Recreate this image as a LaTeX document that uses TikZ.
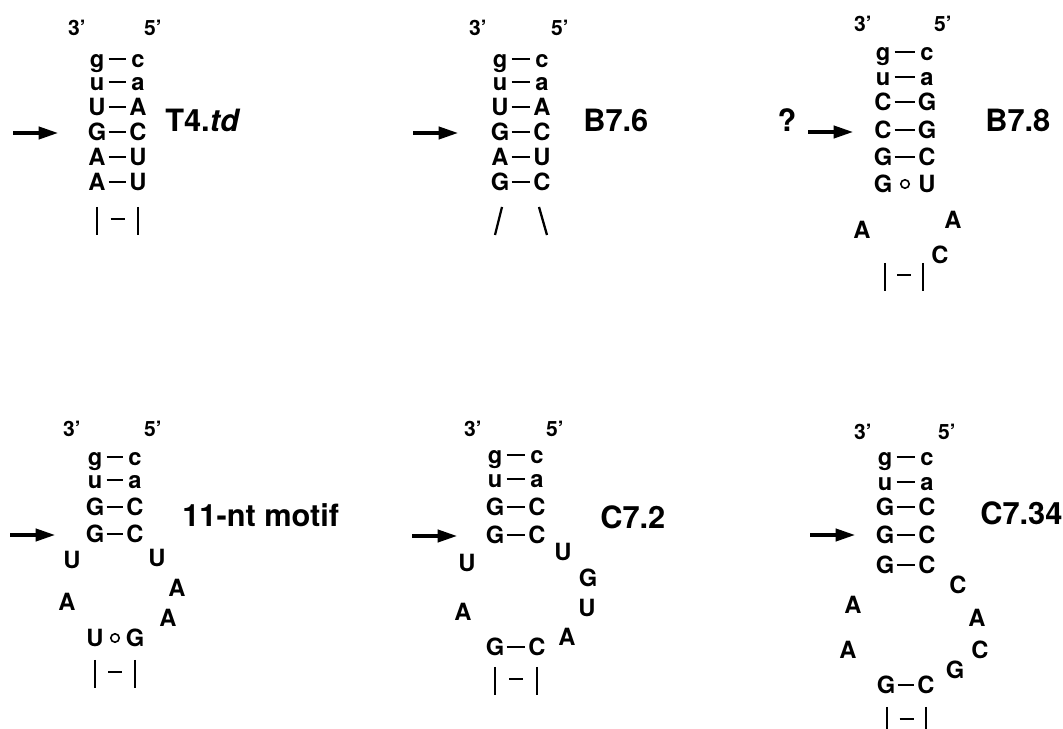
\documentclass[tikz,border=0pt]{standalone}
\usepackage{fontspec}
\setmainfont{TeX Gyre Heros}
\usetikzlibrary{arrows.meta}
\tikzset{
  nt/.style={font=\fontsize{13.5}{13.5}\selectfont\bfseries,inner sep=0pt,text height=9.7pt,text depth=0pt},
  ntend/.style={font=\fontsize{12}{12}\selectfont\bfseries,inner sep=0pt,anchor=base},
  stemname/.style={font=\fontsize{17.5}{17.5}\selectfont\bfseries,inner sep=0pt,anchor=base west},
  pairdash/.style={line width=1.2pt,shorten <=6.6pt,shorten >=6.6pt},
  strand/.style={line width=1.3pt},
  wobble/.style={circle,draw,line width=.9pt,inner sep=0pt,minimum size=4.8pt},
  entry/.style={-{Triangle[length=11pt,width=7pt]},line width=1.8pt}
}
% helix continues: |-| below the last pair
\newcommand{\stemcut}[3]{\draw[strand] (#1,#3)--++(0,28) (#2,#3)--++(0,28);
  \draw[strand] ({(#1+#2)/2-7},#3+12)--++(14,0);}
\begin{document}
\begin{tikzpicture}[x=.02cm,y=-.02cm]
\useasboundingbox (0,0) rectangle (1063,729);
% T4.td
\node[ntend] (t3) at (77,36) {3'};\node[ntend] (t5) at (153,36) {5'};
\foreach \l/\r/\y [count=\i] in {g/c/59,u/a/82,U/A/107,G/C/132,A/U/157,A/U/182}{
  \node[nt] (tl\i) at (97,\y) {\l};\node[nt] (tr\i) at (138,\y) {\r};
  \draw[pairdash] (tl\i.center)--(tr\i.center);}
\stemcut{97}{138}{207}
\coordinate (ta) at (13,133);\coordinate (tah) at (58,133);\draw[entry] (ta)--(tah);
\node[stemname] (tname) at (165,132) {T4.\textit{td}};
% B7.6
\node[ntend] (b3) at (478,36) {3'};\node[ntend] (b5) at (560,36) {5'};
\foreach \l/\r/\y [count=\i] in {g/c/59,u/a/82,U/A/107,G/C/132,A/U/157,G/C/182}{
  \node[nt] (bl\i) at (500,\y) {\l};\node[nt] (br\i) at (542,\y) {\r};
  \draw[pairdash] (bl\i.center)--(br\i.center);}
\draw[strand] (502,207)--(495,235);\draw[strand] (539,207)--(547,235);
\coordinate (ba) at (413,133);\coordinate (bah) at (458,133);\draw[entry] (ba)--(bah);
\node[stemname] (bname) at (583,132) {B7.6};
% B7.8
\node[ntend] (c3) at (863,32) {3'};\node[ntend] (c5) at (943,32) {5'};
\foreach \l/\r/\y [count=\i] in {g/c/52,u/a/77,C/G/102,C/G/130,G/C/157}{
  \node[nt] (cl\i) at (883,\y) {\l};\node[nt] (cr\i) at (927,\y) {\r};
  \draw[pairdash] (cl\i.center)--(cr\i.center);}
\node[nt] (cl6) at (883,184) {G};\node[nt] (cr6) at (927,184) {U};
\node[wobble] (cw) at (905,184) {};
\node[nt] (cla) at (862,230) {A};\node[nt] (cra) at (953,220) {A};\node[nt] (crc) at (940,255) {C};
\stemcut{885}{923}{263}
\node[stemname,anchor=base] (cq) at (787,132) {?};
\coordinate (ca) at (808,132);\coordinate (cah) at (853,132);\draw[entry] (ca)--(cah);
\node[stemname] (cname) at (985,132) {B7.8};
% 11-nt motif
\node[ntend] (m3) at (72,437) {3'};\node[ntend] (m5) at (153,437) {5'};
\foreach \l/\r/\y [count=\i] in {g/c/457,u/a/480,G/C/507,G/C/534}{
  \node[nt] (ml\i) at (95,\y) {\l};\node[nt] (mr\i) at (135,\y) {\r};
  \draw[pairdash] (ml\i.center)--(mr\i.center);}
\node[nt] (mu1) at (72,560) {U};\node[nt] (ma1) at (67,602) {A};
\node[nt] (mu2) at (157,558) {U};\node[nt] (ma2) at (177,588) {A};\node[nt] (ma3) at (168,618) {A};
\node[nt] (ml5) at (95,638) {U};\node[nt] (mr5) at (135,638) {G};
\node[wobble] (mw) at (115,638) {};
\stemcut{95}{135}{660}
\coordinate (ma) at (10,535);\coordinate (mah) at (55,535);\draw[entry] (ma)--(mah);
\node[stemname] (mname) at (182,527) {11-nt motif};
% C7.2
\node[ntend] (d3) at (473,437) {3'};\node[ntend] (d5) at (555,437) {5'};
\foreach \l/\r/\y [count=\i] in {g/c/455,u/a/479,G/C/507,G/C/535}{
  \node[nt] (dl\i) at (495,\y) {\l};\node[nt] (dr\i) at (537,\y) {\r};
  \draw[pairdash] (dl\i.center)--(dr\i.center);}
\node[nt] (du1) at (467,563) {U};\node[nt] (da1) at (463,612) {A};
\node[nt] (du2) at (563,552) {U};\node[nt] (dg) at (588,578) {G};\node[nt] (du3) at (587,608) {U};\node[nt] (da2) at (567,637) {A};
\node[nt] (dl5) at (495,647) {G};\node[nt] (dr5) at (537,647) {C};
\draw[pairdash] (dl5.center)--(dr5.center);
\stemcut{495}{537}{667}
\coordinate (da) at (412,536);\coordinate (dah) at (457,536);\draw[entry] (da)--(dah);
\node[stemname] (dname) at (600,529) {C7.2};
% C7.34
\node[ntend] (e3) at (863,440) {3'};\node[ntend] (e5) at (947,440) {5'};
\foreach \l/\r/\y [count=\i] in {g/c/457,u/a/482,G/C/507,G/C/535,G/C/565}{
  \node[nt] (el\i) at (885,\y) {\l};\node[nt] (er\i) at (927,\y) {\r};
  \draw[pairdash] (el\i.center)--(er\i.center);}
\node[nt] (ea1) at (853,605) {A};\node[nt] (ea2) at (848,650) {A};
\node[nt] (ec1) at (958,585) {C};\node[nt] (ea3) at (977,618) {A};\node[nt] (ec2) at (980,650) {C};\node[nt] (eg) at (955,670) {G};
\node[nt] (el6) at (886,685) {G};\node[nt] (er6) at (926,685) {C};
\draw[pairdash] (el6.center)--(er6.center);
\stemcut{887}{926}{707}
\coordinate (ea) at (810,535);\coordinate (eah) at (855,535);\draw[entry] (ea)--(eah);
\node[stemname] (ename) at (980,525) {C7.34};
\end{tikzpicture}
\end{document}
